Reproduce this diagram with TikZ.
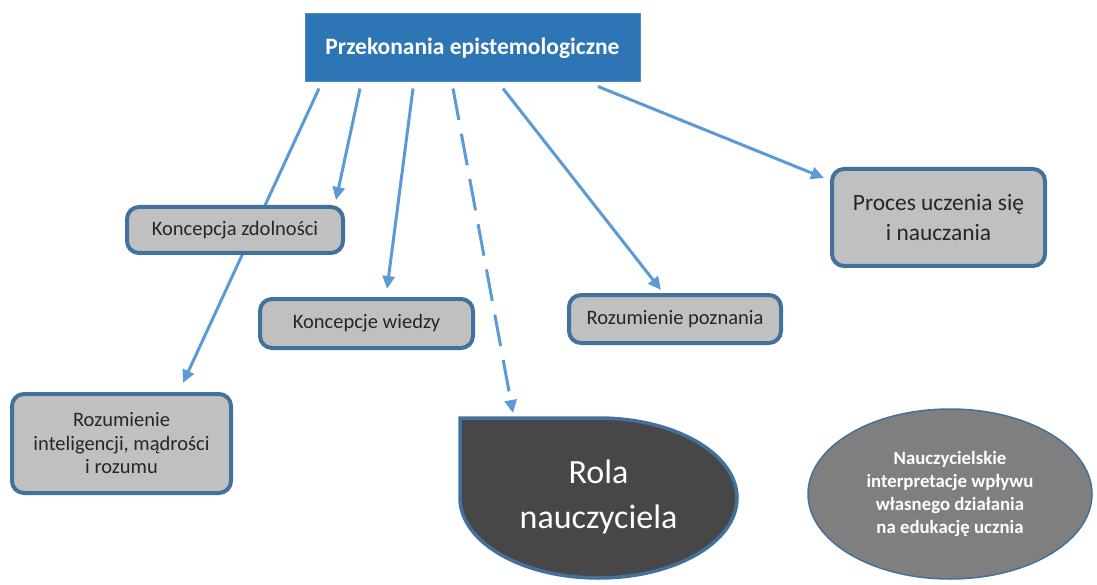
\documentclass[tikz,border=0pt]{standalone}
\usepackage{fontspec}
\setmainfont{Carlito}
\usetikzlibrary{arrows.meta,calc,backgrounds,shapes.geometric}

\definecolor{topblue}{HTML}{2E75B6}
\definecolor{linkblue}{HTML}{5B9BD5}
\definecolor{edgeblue}{HTML}{41719C}
\definecolor{boxgray}{HTML}{C0C0C0}
\definecolor{rolagray}{HTML}{474747}
\definecolor{ovalgray}{HTML}{7F7F7F}

\tikzset{
  topbox/.style={fill=topblue, draw=topblue!85!white, line width=1pt,
                 text=white, font=\bfseries\fontsize{23.5}{28}\selectfont},
  conbox/.style={rounded corners=12pt, fill=boxgray, draw=edgeblue,
                 line width=4pt, align=center, text=black!85,
                 font=\fontsize{20.5}{23.5}\selectfont},
  link/.style={draw=linkblue, line width=3pt,
               -{Triangle[length=13pt,width=12pt]}},
  dashlink/.style={link, dash pattern=on 32pt off 14pt}
}

\begin{document}
\begin{tikzpicture}[x=1pt,y=1pt]
\useasboundingbox (0,0) rectangle (1097,-585);

% top node
\node[topbox, minimum width=335pt, minimum height=68pt, inner sep=0pt]
  (epi) at (472.5,-48) {Przekonania epistemologiczne};

% concept boxes
\node[conbox, minimum width=216pt, minimum height=46pt]
  (zdol) at (235,-230) {Koncepcja zdolności};
\node[conbox, minimum width=213pt, minimum height=49pt]
  (wiedza) at (366.5,-323.5) {Koncepcje wiedzy};
\node[conbox, minimum width=212pt, minimum height=48pt]
  (pozn) at (675,-319) {Rozumienie poznania};
\node[conbox, minimum width=213pt, minimum height=97pt,
      font=\fontsize{23.4}{30}\selectfont]
  (proces) at (938.5,-217.5) {Proces uczenia się\\i nauczania};
\node[conbox, minimum width=219pt, minimum height=99pt]
  (intel) at (121.5,-443.5) {Rozumienie\\inteligencji, mądrości\\i rozumu};

% teacher role (ellipse with a square corner)
\filldraw[fill=rolagray, draw=edgeblue, line width=3.5pt]
  (460,-418) -- (598.5,-418)
  arc[start angle=90, end angle=-180, x radius=138.5pt, y radius=80pt]
  -- cycle;
\coordinate (rolacorner) at (460,-418);
\node[text=white, align=center, font=\fontsize{34}{45}\selectfont]
  (rola) at (598.5,-497) {Rola\\nauczyciela};

% interpretations
\node[ellipse, fill=ovalgray, draw=edgeblue, line width=1.5pt,
      minimum width=284pt, minimum height=170pt, inner sep=0pt,
      align=center, text=white, font=\bfseries\fontsize{18.8}{23}\selectfont]
  (interp) at (950,-494)
  {Nauczycielskie\\interpretacje wpływu\\własnego działania\\na edukację ucznia};

% connectors
\begin{pgfonlayer}{background}
\draw[link] ($(epi.south)+(-153.5,-6)$) -- ($(intel.north)+(61.5,9)$);
\draw[link] ($(epi.south)+(-112.5,-6)$) -- ($(zdol.north)+(101,5)$);
\draw[link] ($(epi.south)+(-59.5,-6)$) -- ($(wiedza.north)+(20.5,8)$);
\draw[dashlink] ($(epi.south)+(-19.5,-6)$) -- ($(rolacorner)+(53,5)$);
\draw[link] ($(epi.south)+(30.5,-6)$) -- ($(pozn.north)+(-14,3)$);
\draw[link] ($(epi.south)+(125.5,-4)$) -- ($(proces.west)+(-6,39.5)$);
\end{pgfonlayer}
\end{tikzpicture}
\end{document}
